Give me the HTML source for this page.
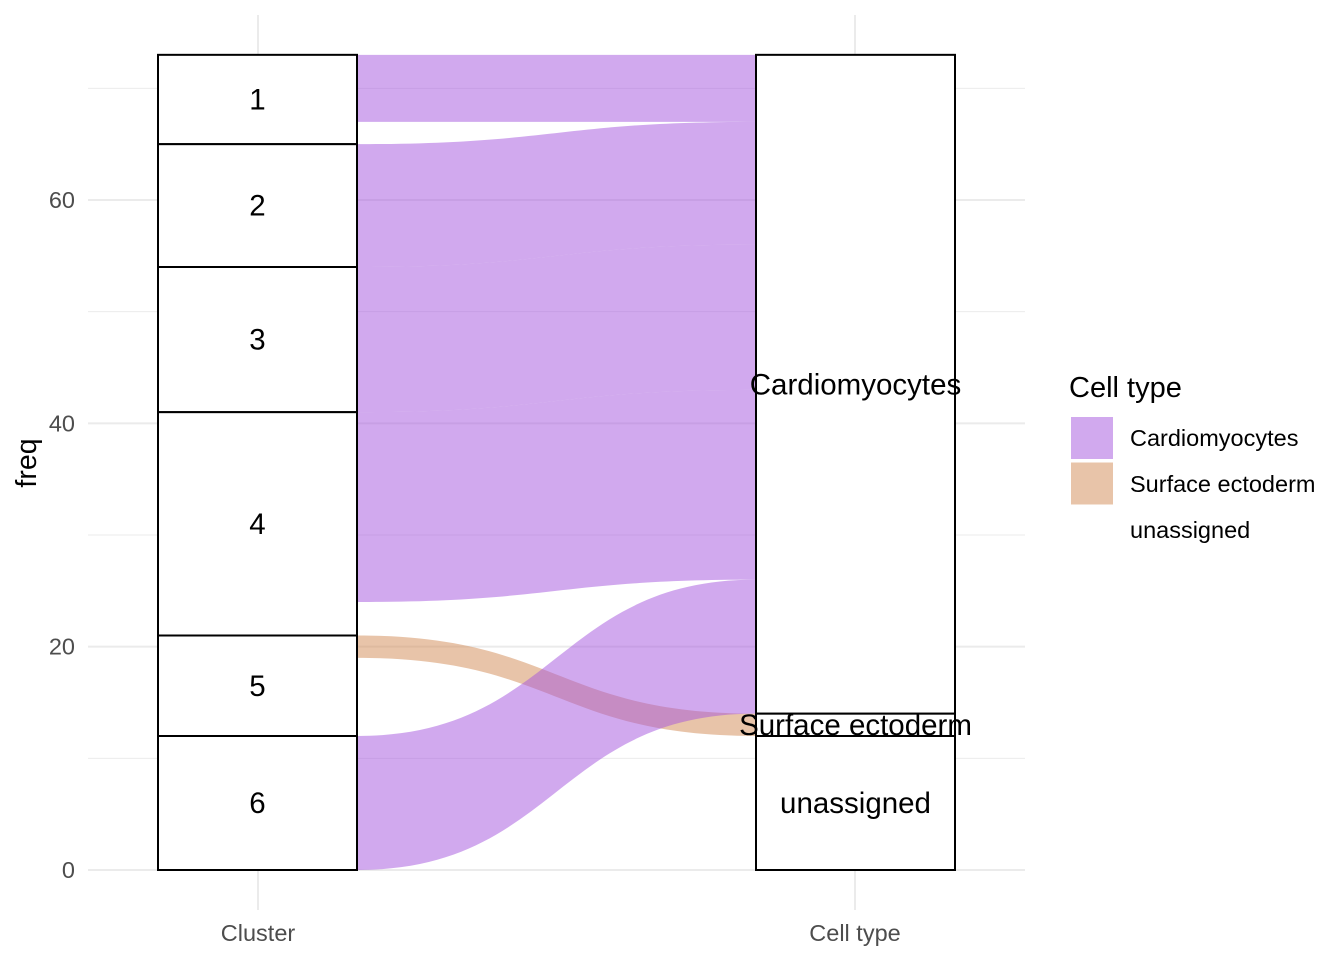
<!DOCTYPE html>
<html><head><meta charset="utf-8"><style>
body{margin:0;background:#fff}
svg text{font-family:"Liberation Sans",Arial,sans-serif}
</style></head><body>
<svg id="c" width="1344" height="960" xmlns="http://www.w3.org/2000/svg"></svg>
<script>
const clusters=["1","2","3","4","5","6"];
const cellTypes=["Cardiomyocytes","Surface ectoderm","unassigned"];
const cardioCounts=[6,11,13,17,0,12];
const surfaceCounts=[0,0,0,0,2,0];
const unassignedCounts=[2,0,0,3,7,0];
const yTicks=[0,20,40,60];
const yMinor=[10,30,50,70];
const colors={"Cardiomyocytes":"#A353DD","Surface ectoderm":"#D18953","unassigned":"none"};

const NS="http://www.w3.org/2000/svg";
const svg=document.getElementById('c');
const y0=870, k=670/60;
const Y=v=>y0-v*k;
const xC=[158,357], xT=[756,955];
function el(t,a,p){const e=document.createElementNS(NS,t);for(const n in a)e.setAttribute(n,a[n]);(p||svg).appendChild(e);return e;}

yMinor.forEach(v=>{const l=el('line',{x1:88,x2:1025,y1:Y(v),y2:Y(v),stroke:'#ebebeb','stroke-width':1});

});
yTicks.forEach(v=>{const l=el('line',{x1:88,x2:1025,y1:Y(v),y2:Y(v),stroke:'#ebebeb','stroke-width':2});


const t=el('text',{x:75,y:Y(v)+8,'text-anchor':'end','font-size':23.5,fill:'#4d4d4d'});t.textContent=v;

});
[258,855].forEach(x=>{const l=el('line',{x1:x,x2:x,y1:15,y2:910,stroke:'#ebebeb','stroke-width':2});

});

const series=[cardioCounts,surfaceCounts,unassignedCounts];
const n=clusters.length;
const totals=clusters.map((_,i)=>series.reduce((s,a)=>s+a[i],0));
const grand=totals.reduce((a,b)=>a+b,0);
const cTop=[];let acc=grand;
for(let i=0;i<n;i++){cTop.push(acc);acc-=totals[i];}
const tTot=series.map(a=>a.reduce((s,b)=>s+b,0));
const tTop=[];acc=grand;
for(let j=0;j<3;j++){tTop.push(acc);acc-=tTot[j];}
const cOff=cTop.slice();
const flows=[];
for(let i=0;i<n;i++)for(let j=0;j<3;j++){
  const v=series[j][i]; if(!v)continue;
  flows.push({i,j,a1:cOff[i],a0:cOff[i]-v});
  cOff[i]-=v;
}
for(let j=0;j<3;j++){let o=tTop[j];flows.filter(f=>f.j===j).forEach(f=>{f.b1=o;f.b0=o-series[j][f.i];o=f.b0;});}
const xa=xC[1], xb=xT[0], xm=(xa+xb)/2;
flows.forEach(f=>{
  if(colors[cellTypes[f.j]]==='none')return;
  const d=`M${xa},${Y(f.a1)} C${xm},${Y(f.a1)} ${xm},${Y(f.b1)} ${xb},${Y(f.b1)} L${xb},${Y(f.b0)} C${xm},${Y(f.b0)} ${xm},${Y(f.a0)} ${xa},${Y(f.a0)} Z`;
  const p=el('path',{d,fill:colors[cellTypes[f.j]],'fill-opacity':0.5});
  
  
});
function stratum(x,top,v,label,nm){
  const r=el('rect',{x:x[0],y:Y(top),width:x[1]-x[0],height:v*k,fill:'#fff',stroke:'#000','stroke-width':2});
  
  
  const t=el('text',{x:(x[0]+x[1])/2,y:Y(top-v/2)+10,'text-anchor':'middle','font-size':29.5,fill:'#000'});
  t.textContent=label;
  
  
}
clusters.forEach((c,i)=>stratum(xC,cTop[i],totals[i],c,'stratum-cluster-'+c));
cellTypes.forEach((c,j)=>stratum(xT,tTop[j],tTot[j],c,'stratum-'+c.toLowerCase().replace(/ /g,'-')));
[[258,'Cluster'],[855,'Cell type']].forEach(([x,s])=>{const t=el('text',{x,y:941,'text-anchor':'middle','font-size':23.5,fill:'#4d4d4d'});t.textContent=s;

});
const yt=el('text',{x:0,y:0,'text-anchor':'middle','font-size':28.5,fill:'#000',transform:'translate(36,463) rotate(-90)'});yt.textContent='freq';


const lt=el('text',{x:1069,y:397,'font-size':29,fill:'#000'});lt.textContent='Cell type';


const keyFill=["#D1A9EE","#E8C4A9","none"];
cellTypes.forEach((c,j)=>{
  const g=el('g',{});
  
  
  el('rect',{x:1071,y:417+j*45.5,width:42,height:42,fill:keyFill[j]},g);
  const t=el('text',{x:1130,y:446+j*46,'font-size':23.5,fill:'#000'},g);t.textContent=c;
});
</script>
</body></html>
